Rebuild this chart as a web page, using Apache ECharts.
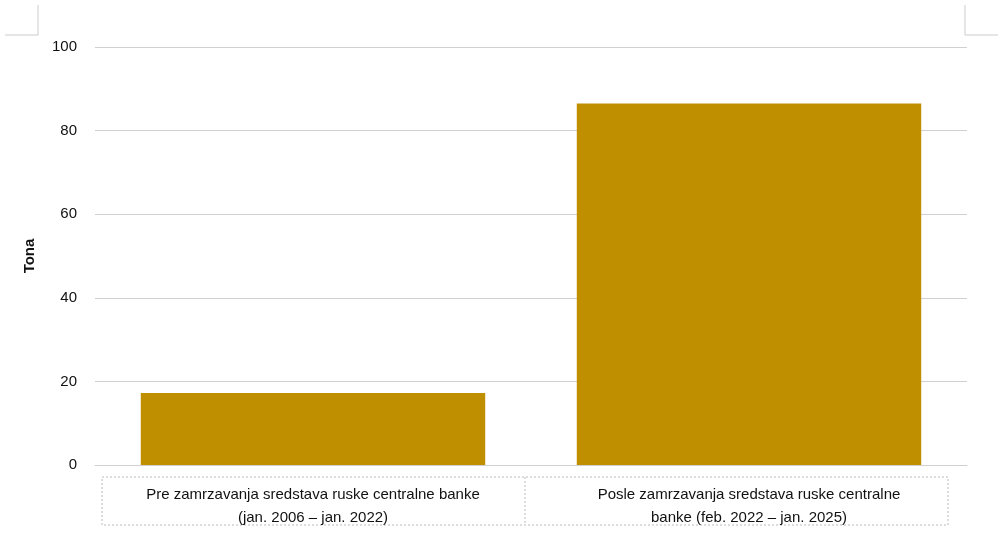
<!DOCTYPE html>
<html><head><meta charset="utf-8">
<script src="https://cdn.jsdelivr.net/npm/echarts@6/dist/echarts.min.js"></script>
<style>html,body{margin:0;padding:0;background:#fff}#c{width:1002px;height:545px}</style>
</head><body><div id="c"></div>
<script>
const categories = ["Pre zamrzavanja sredstava ruske centralne banke\n(jan. 2006 – jan. 2022)", "Posle zamrzavanja sredstava ruske centralne\nbanke (feb. 2022 – jan. 2025)"];
const values = [17.2, 86.5];
const yTicks = [0, 20, 40, 60, 80, 100];
const chart = echarts.init(document.getElementById('c'));
const dash = {stroke:'#bbb', lineWidth:1, lineDash:[2,2]};
chart.setOption({
  animation:false,
  grid:{left:95,right:35,top:47,bottom:80},
  xAxis:{type:'category',data:categories,
    axisLine:{lineStyle:{color:'#d0d0d0'}},axisTick:{show:false},
    axisLabel:{fontFamily:'Liberation Sans, Arial',fontSize:15,color:'#111',lineHeight:23,margin:18}},
  yAxis:{type:'value',min:0,max:100,interval:20,name:'Tona',nameLocation:'middle',nameGap:58,
    nameTextStyle:{fontFamily:'Liberation Sans, Arial',fontSize:15,fontWeight:'bold',color:'#111'},
    axisLabel:{fontFamily:'Liberation Sans, Arial',fontSize:15,color:'#111',margin:18,formatter:v=>yTicks.includes(v)?v:''},
    splitLine:{lineStyle:{color:'#d0d0d0'}}},
  series:[{type:'bar',data:values,barWidth:'79%',itemStyle:{color:'#BF8F00'}}],
  graphic:[
    {type:'rect',shape:{x:102,y:477,width:846,height:48},style:Object.assign({fill:'none'},dash)},
    {type:'line',shape:{x1:525,y1:477,x2:525,y2:525},style:dash},
    {type:'polyline',shape:{points:[[5,35],[38,35],[38,5]]},style:{stroke:'#ccc',fill:'none',lineWidth:1}},
    {type:'polyline',shape:{points:[[965,5],[965,35],[998,35]]},style:{stroke:'#ccc',fill:'none',lineWidth:1}}
  ]
});
</script></body></html>
